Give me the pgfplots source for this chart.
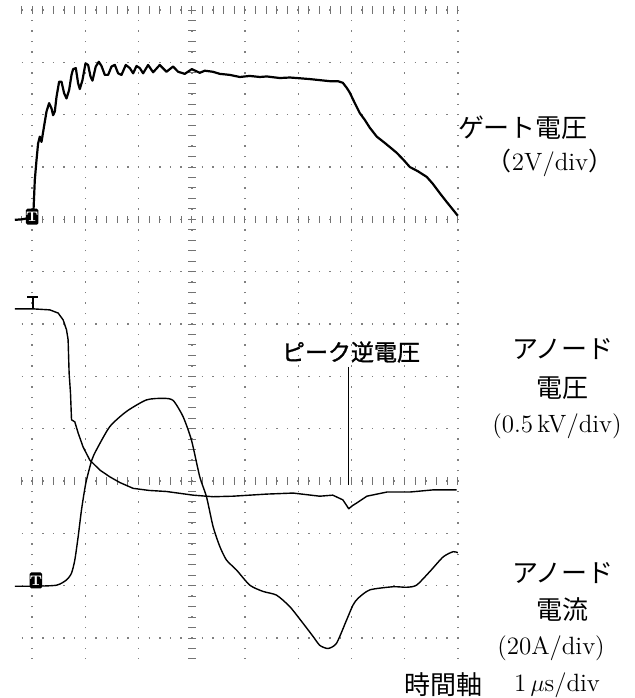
\documentclass[border=0pt]{standalone}
\usepackage{pgfplots}
\pgfplotsset{compat=1.18}
\usepackage{fontspec}
\newfontfamily\jp{Noto Sans CJK JP}
\newfontfamily\jpb{Noto Sans CJK JP}[FakeBold=1.2]
\tikzset{
  hgrid/.style={black!50, line width=0.7pt, dash pattern=on 0.7pt off 4.62pt, dash phase=0.35pt},
  vgrid/.style={black!50, line width=0.7pt, dash pattern=on 0.7pt off 4.533pt, dash phase=0.35pt},
  tk/.style={black!55, line width=0.5pt},
  mk/.style={fill=black, text=white, inner sep=0pt, rounded corners=0.8pt, minimum width=5.5pt, minimum height=8pt, font=\fontsize{7}{7}\selectfont\bfseries}
}
\begin{document}
\begin{tikzpicture}
\useasboundingbox (0,0) rectangle (317.5pt,349pt);
\begin{axis}[at={(7.4pt,16.9pt)}, anchor=south west, scale only axis,
  width=221.5pt, height=327.1pt, xmin=-3.327, xmax=5, ymin=-0.5, ymax=12,
  axis lines=none, ticks=none, clip=false]
% grid
\pgfplotsinvokeforeach{0,...,12}{\draw[hgrid] (-3.2,#1) -- (5,#1);}
\pgfplotsinvokeforeach{-3,...,5}{\draw[vgrid] (#1,-0.4) -- (#1,12);}
\pgfplotsinvokeforeach{-3.2,-3.0,...,5.0}{
  \draw[tk] (#1,11.93) -- (#1,12.07);
  \draw[tk] (#1,7.93) -- (#1,8.07);
  \draw[tk] (#1,2.93) -- (#1,3.07);}
\pgfplotsinvokeforeach{-0.4,-0.2,...,12}{\draw[tk] (-0.07,#1) -- (0.07,#1);}
% gate voltage
\addplot[black, line width=1.1pt, line join=round] coordinates {
(-3.327,7.99) (-3.2,8.0) (-3.139,8.01) (-3.05,8.03) (-2.983,7.99) (-2.951,8.75) (-2.919,9.13)
(-2.889,9.45) (-2.857,9.58) (-2.825,9.48) (-2.767,9.84) (-2.731,10.06) (-2.682,10.22)
(-2.637,10.12) (-2.607,9.99) (-2.575,10.06) (-2.543,10.34) (-2.494,10.63) (-2.449,10.63)
(-2.400,10.41) (-2.355,10.31) (-2.306,10.47) (-2.261,10.76) (-2.231,10.87) (-2.180,10.89)
(-2.137,10.60) (-2.105,10.49) (-2.055,10.66) (-1.998,10.98) (-1.949,10.95) (-1.904,10.73)
(-1.867,10.65) (-1.805,10.92) (-1.748,11.01) (-1.697,10.93) (-1.635,10.76) (-1.573,10.76)
(-1.509,10.92) (-1.447,10.95) (-1.385,10.79) (-1.321,10.76) (-1.241,10.95) (-1.165,10.89)
(-1.103,10.79) (-1.039,10.93) (-0.977,10.89) (-0.915,10.79) (-0.821,10.95) (-0.727,10.81)
(-0.602,10.95) (-0.476,10.82) (-0.351,10.92) (-0.258,10.82) (-0.132,10.78) (0,10.87)
(0.150,10.80) (0.244,10.84) (0.395,10.82) (0.526,10.78) (0.714,10.76) (0.902,10.72)
(1.090,10.74) (1.278,10.72) (1.410,10.73) (1.654,10.70) (1.842,10.71) (1.974,10.70)
(2.218,10.68) (2.406,10.66) (2.594,10.64) (2.744,10.64) (2.838,10.61) (2.914,10.51)
(2.970,10.42) (3.064,10.22) (3.158,10.03) (3.252,9.90) (3.346,9.75) (3.477,9.58)
(3.628,9.46) (3.759,9.35) (3.853,9.27) (3.985,9.13) (4.098,9.00) (4.248,8.92)
(4.417,8.81) (4.530,8.68) (4.662,8.50) (4.793,8.33) (4.944,8.14) (5.0,8.07)};
% anode voltage
\addplot[black, line width=0.7pt, line join=round] coordinates {
(-3.327,6.29) (-2.99,6.29) (-2.669,6.27) (-2.513,6.21) (-2.419,6.08) (-2.355,5.89)
(-2.325,5.70) (-2.306,5.06) (-2.280,4.68) (-2.261,4.17) (-2.230,4.15) (-2.199,4.13)
(-2.137,3.92) (-2.043,3.65) (-1.917,3.40) (-1.729,3.21) (-1.541,3.08) (-1.35,2.97)
(-1.103,2.86) (-0.80,2.82) (-0.476,2.80) (0.024,2.73) (0.400,2.70) (0.771,2.71)
(1.404,2.75) (1.904,2.77) (2.406,2.71) (2.65,2.73) (2.84,2.64) (2.95,2.47)
(3.02,2.53) (3.10,2.58) (3.29,2.71) (3.67,2.79) (4.10,2.79) (4.53,2.83) (4.98,2.83)};
% anode current
\addplot[black, line width=0.7pt, line join=round, smooth, tension=0.4] coordinates {
(-3.327,0.99) (-2.95,0.99) (-2.54,1.01) (-2.355,1.11) (-2.261,1.24) (-2.199,1.49)
(-2.137,1.93) (-2.073,2.45) (-1.992,2.96) (-1.88,3.40) (-1.79,3.60) (-1.541,4.04)
(-1.227,4.33) (-0.852,4.55) (-0.539,4.58) (-0.351,4.54) (-0.164,4.23) (-0.006,3.78)
(0.150,3.08) (0.276,2.70) (0.40,2.13) (0.526,1.75) (0.652,1.49) (0.840,1.30)
(1.090,1.01) (1.340,0.89) (1.592,0.82) (1.842,0.60) (2.092,0.28) (2.28,0.03)
(2.406,-0.14) (2.562,-0.20) (2.72,-0.10) (2.908,0.34) (3.03,0.63) (3.126,0.76)
(3.346,0.92) (3.784,0.98) (4.036,0.97) (4.224,1.01) (4.474,1.27) (4.724,1.55)
(4.912,1.65) (5.0,1.63)};
% channel markers
\node[mk] at (-3.0,8.05) {T};
\node[mk] at (-2.93,1.10) {T};
\draw[line width=0.9pt] (-3.09,6.52) -- (-2.89,6.52);
\draw[line width=0.9pt] (-2.99,6.52) -- (-2.99,6.29);
% peak reverse voltage pointer
\draw[line width=0.7pt] (2.95,5.18) -- (2.95,2.92);
\end{axis}
% labels
\node[font=\jp\fontsize{13}{13}\selectfont] at (261.5pt,285pt) {ゲート電圧};
\node[font=\fontsize{12.5}{12.5}\selectfont] at (275pt,267.5pt) {{\jp （}2V/div{\jp ）}};
\node[font=\jpb\fontsize{11.5}{11.5}\selectfont] at (175.5pt,173pt) {ピーク逆電圧};
\node[font=\jp\fontsize{13}{13}\selectfont] at (281.5pt,174.5pt) {アノード};
\node[font=\jp\fontsize{13}{13}\selectfont] at (281pt,155pt) {電圧};
\node[font=\fontsize{12.5}{12.5}\selectfont] at (278.5pt,136pt) {(0.5\,kV/div)};
\node[font=\jp\fontsize{13}{13}\selectfont] at (281.5pt,62.5pt) {アノード};
\node[font=\jp\fontsize{13}{13}\selectfont] at (281pt,44pt) {電流};
\node[font=\fontsize{12.5}{12.5}\selectfont] at (275.5pt,25pt) {(20A/div)};
\node[font=\jp\fontsize{13}{13}\selectfont] at (221.5pt,6.5pt) {時間軸};
\node[font=\fontsize{12.5}{12.5}\selectfont] at (278.5pt,6.5pt) {1\,$\mu$s/div};
\end{tikzpicture}
\end{document}
